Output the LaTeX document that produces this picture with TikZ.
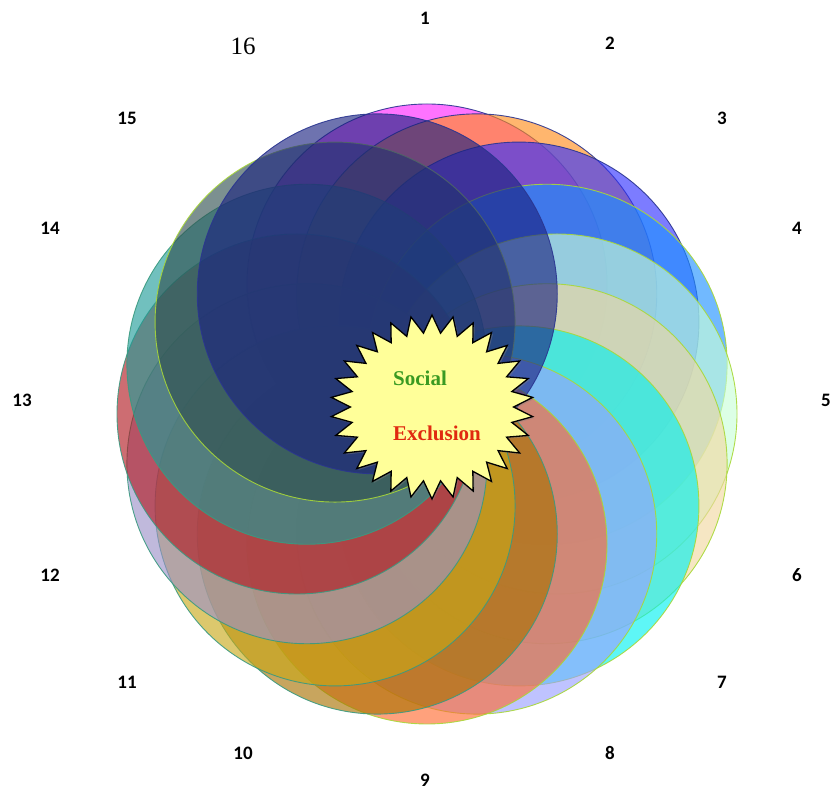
\documentclass[tikz,border=0pt]{standalone}
\usepackage{fontspec}
\newfontfamily\numfont{Carlito}
\newfontfamily\wordfont{Liberation Serif}
\usepackage{tikz}
\usetikzlibrary{shapes.geometric,shadows}

\definecolor{ringA}{HTML}{FF22FF}
\definecolor{ringB}{HTML}{FF8C1A}
\definecolor{ringC}{HTML}{3030FF}
\definecolor{ringD}{HTML}{1E90FF}
\definecolor{ringE}{HTML}{C8FFD8}
\definecolor{ringF}{HTML}{F0D8A0}
\definecolor{ringG}{HTML}{00F0F0}
\definecolor{ringH}{HTML}{9AA0FF}
\definecolor{ringI}{HTML}{FF6A30}
\definecolor{ringJ}{HTML}{A87000}
\definecolor{ringK}{HTML}{C8A818}
\definecolor{ringL}{HTML}{9C90C8}
\definecolor{ringM}{HTML}{B01820}
\definecolor{ringN}{HTML}{1E9C98}
\definecolor{ringO}{HTML}{2F4F4F}
\definecolor{ringP}{HTML}{1A2280}
\definecolor{edgeblue}{HTML}{2A3590}
\definecolor{edgelime}{HTML}{A8D838}
\definecolor{edgeteal}{HTML}{3A9A80}
\definecolor{burstfill}{HTML}{FFFF99}
\definecolor{socialgreen}{HTML}{3A9A22}
\definecolor{exclred}{HTML}{E02A10}

\tikzset{every node/.style={font=\numfont\bfseries\fontsize{19}{22}\selectfont}}

\begin{document}
\begin{tikzpicture}[
x=1pt, y=1pt,
ring/.style={fill opacity=0.63, draw opacity=0.9, line width=0.9pt},
burst/.style={
star, star points=30, star point ratio=1.24,
minimum size=184pt, xscale=1.1,
fill=burstfill, draw=black, line width=1.3pt,
drop shadow={shadow xshift=1.5pt, shadow yshift=-1.5pt, opacity=0.4}
},
word/.style={font=\wordfont\bfseries\fontsize{21}{25}\selectfont}
]

\useasboundingbox (0,0) rectangle (835,791);
\coordinate (mid) at (427,377);

% the sixteen circles, later ones on top
\filldraw[ring, fill=ringA, draw=edgeblue] (mid) ++(90:130) circle (180);
\filldraw[ring, fill=ringB, draw=edgeblue] (mid) ++(67.5:130) circle (180);
\filldraw[ring, fill=ringC, draw=edgeblue] (mid) ++(45:130) circle (180);
\filldraw[ring, fill=ringD, draw=edgelime] (mid) ++(22.5:130) circle (180);
\filldraw[ring, fill=ringE, draw=edgelime] (mid) ++(0:130) circle (180);
\filldraw[ring, fill=ringF, draw=edgelime] (mid) ++(-22.5:130) circle (180);
\filldraw[ring, fill=ringG, draw=edgelime] (mid) ++(-45:130) circle (180);
\filldraw[ring, fill=ringH, draw=edgelime] (mid) ++(-67.5:130) circle (180);
\filldraw[ring, fill=ringI, draw=edgelime] (mid) ++(-90:130) circle (180);
\filldraw[ring, fill=ringJ, draw=edgeteal] (mid) ++(-112.5:130) circle (180);
\filldraw[ring, fill=ringK, draw=edgeteal] (mid) ++(-135:130) circle (180);
\filldraw[ring, fill=ringL, draw=edgeteal] (mid) ++(-157.5:130) circle (180);
\filldraw[ring, fill=ringM, draw=edgeteal] (mid) ++(180:130) circle (180);
\filldraw[ring, fill=ringN, draw=edgeteal] (mid) ++(157.5:130) circle (180);
\filldraw[ring, fill=ringO, draw=edgelime] (mid) ++(135:130) circle (180);
\filldraw[ring, fill=ringP, draw=edgeblue] (mid) ++(112.5:130) circle (180);

\node[burst] (sun) at (432,384) {};
\node[word, text=socialgreen] (social) at (420,413) {Social};
\node[word, text=exclred] (exclusion) at (437,358) {Exclusion};

\node (n1) at (425,773) {1};
\node (n2) at (610,748) {2};
\node (n3) at (722,673) {3};
\node (n4) at (797,563) {4};
\node (n5) at (826,391) {5};
\node (n6) at (797,216) {6};
\node (n7) at (722,109) {7};
\node (n8) at (610,38) {8};
\node (n9) at (425,11) {9};
\node (n10) at (243,38) {10};
\node (n11) at (127,109) {11};
\node (n12) at (50,216) {12};
\node (n13) at (22,391) {13};
\node (n14) at (50,563) {14};
\node (n15) at (127,673) {15};
\node[font=\wordfont\fontsize{25}{29}\selectfont] (n16) at (243,745) {16};

\end{tikzpicture}
\end{document}
